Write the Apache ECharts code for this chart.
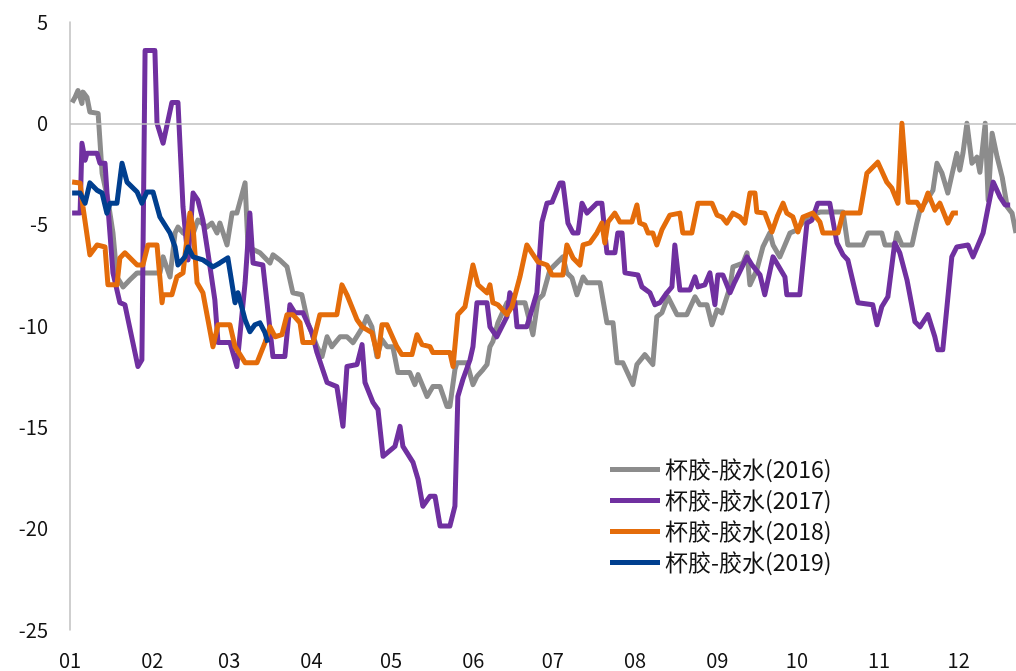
<!DOCTYPE html>
<html>
<head>
<meta charset="utf-8">
<script src="https://cdn.jsdelivr.net/npm/echarts@6.0.0/dist/echarts.min.js"></script>
<style>
html,body{margin:0;padding:0;background:#fff}
#main{width:1016px;height:671px}
</style>
</head>
<body>
<div id="main"></div>
<script>
// x = day of year (0 = 1 Jan), y = spread
const monthStarts = [0, 31, 60, 91, 121, 152, 182, 213, 244, 274, 305, 335]
const monthLabels = ['01','02','03','04','05','06','07','08','09','10','11','12']
const names = ['杯胶-胶水(2016)', '杯胶-胶水(2017)', '杯胶-胶水(2018)', '杯胶-胶水(2019)']
const colors = ['#8c8c8c', '#7030a0', '#e46c0a', '#003f8f']

const days2016 = [0.8,1.9,3.0,4.5,4.9,6.4,7.5,10.6,12.1,14.3,16.2,17.7,20.0,22.6,25.3,33.9,35.1,37.7,39.6,40.7,42.6,46.0,48.2,51.6,53.5,55.4,56.5,59.2,61.1,62.9,66.0,67.1,71.6,75.4,76.5,79.1,81.8,84.0,87.4,89.7,93.1,95.0,96.9,98.7,101.8,104.4,106.7,110.4,111.9,113.8,115.7,117.6,119.5,121.7,123.6,128.1,130.0,131.2,134.6,136.8,139.5,142.1,143.2,145.1,145.9,149.6,151.9,153.4,155.7,157.2,158.3,159.4,161.3,164.7,171.5,174.5,176.4,178.3,180.9,185.8,187.3,189.2,191.1,193.4,194.9,199.8,202.4,204.7,206.2,208.4,212.2,213.7,216.7,219.7,221.2,223.1,225.4,228.8,232.5,235.6,237.4,240.1,242.0,243.9,245.7,248.8,249.9,253.7,255.2,256.3,258.9,261.2,263.8,265.0,267.6,271.4,274.0,277.8,281.6,282.7,291.4,293.2,298.9,300.8,306.0,307.2,310.9,311.7,313.6,317.4,319.2,320.4,323.0,325.3,326.8,328.7,330.9,332.4,334.3,335.4,336.6,338.1,340.0,341.9,343.0,345.0,346.1,347.6,349.5,351.4,353.3,355.1,356.6]
const vals2016 = [1.03,1.29,1.62,0.98,1.54,1.29,0.56,0.49,-2.46,-3.79,-5.41,-7.58,-8.07,-7.72,-7.38,-7.38,-6.59,-7.58,-5.41,-5.12,-5.41,-5.61,-4.77,-5.12,-4.92,-5.41,-4.92,-6.00,-4.43,-4.43,-2.94,-6.10,-6.39,-6.89,-6.49,-6.74,-7.08,-8.36,-8.46,-9.84,-11.02,-11.51,-10.53,-11.02,-10.53,-10.53,-10.82,-10.04,-9.54,-10.04,-11.51,-10.67,-11.02,-11.02,-12.30,-12.30,-12.89,-12.40,-13.48,-12.99,-12.99,-13.97,-13.97,-12.15,-11.81,-11.81,-12.89,-12.49,-12.15,-11.90,-11.02,-10.77,-9.84,-8.85,-8.85,-10.43,-8.71,-8.46,-7.23,-6.59,-7.38,-7.62,-8.46,-7.58,-7.87,-7.87,-9.84,-9.84,-11.81,-11.81,-12.89,-11.90,-11.41,-11.90,-9.54,-9.35,-8.56,-9.44,-9.44,-8.56,-8.95,-8.95,-9.94,-9.20,-9.35,-8.07,-7.08,-6.89,-6.39,-7.97,-7.23,-6.10,-5.41,-6.00,-6.59,-5.41,-5.26,-4.62,-4.43,-4.38,-4.38,-6.00,-6.00,-5.41,-5.41,-6.00,-6.00,-5.41,-6.00,-6.00,-4.92,-4.28,-3.79,-3.30,-1.97,-2.46,-3.44,-2.56,-1.48,-2.31,-1.48,0,-1.97,-1.67,-2.41,0,-3.79,-0.49,-1.67,-2.66,-4.13,-4.43,-5.41]

const days2017 = [0.8,3.8,4.5,5.7,6.4,10.2,11.3,13.2,14.3,16.2,18.8,20.7,25.6,27.1,28.3,32.0,32.8,35.1,38.4,40.7,42.6,44.5,46.4,48.2,50.1,52.0,54.6,55.8,60.3,62.9,66.0,67.8,69.0,72.7,76.5,81.0,82.9,84.8,87.8,91.2,93.1,96.9,100.6,102.9,104.4,108.2,110.1,111.2,114.2,116.1,118.0,122.5,124.4,125.5,129.3,131.2,133.0,135.7,137.6,139.5,143.2,145.1,146.2,148.1,150.8,151.9,153.4,157.2,158.3,160.9,164.7,165.8,167.7,168.5,172.2,176.0,177.9,179.8,181.7,184.7,185.8,187.7,189.6,191.5,193.0,194.9,198.6,200.5,202.4,205.4,206.5,208.1,209.2,214.1,215.6,218.6,220.5,222.4,225.0,226.9,228.0,229.9,233.7,235.6,236.7,239.3,241.2,243.1,244.2,246.1,248.8,250.6,255.2,257.1,260.1,261.9,265.0,269.5,270.2,275.1,277.8,279.7,281.9,286.4,289.1,291.4,293.2,297.0,302.6,304.2,306.0,308.3,310.9,312.8,315.5,318.5,320.4,323.4,326.0,327.1,329.0,332.4,334.3,338.5,340.4,344.2,346.1,348.0,350.6,352.5,354.4]
const vals2017 = [-4.43,-4.43,-0.98,-1.82,-1.48,-1.48,-1.97,-1.97,-4.13,-7.38,-8.85,-8.95,-12.00,-11.66,3.59,3.59,0,-0.98,1.03,1.03,-4.13,-6.74,-3.44,-3.79,-4.77,-6.39,-8.71,-10.82,-10.82,-12.00,-7.87,-4.43,-6.89,-6.99,-11.51,-11.51,-8.95,-9.35,-9.35,-10.33,-11.31,-12.79,-12.99,-14.95,-12.00,-11.90,-10.92,-12.79,-13.77,-14.12,-16.43,-15.94,-14.95,-15.94,-16.73,-17.56,-18.89,-18.40,-18.40,-19.87,-19.87,-18.89,-13.48,-12.64,-11.66,-11.02,-8.85,-8.85,-10.04,-10.53,-9.54,-8.36,-8.85,-10.04,-10.04,-8.36,-4.87,-3.94,-3.89,-2.94,-2.94,-4.92,-5.41,-5.41,-3.94,-4.43,-3.94,-3.94,-6.39,-6.39,-5.41,-5.41,-7.38,-7.48,-8.07,-8.36,-8.95,-8.85,-8.36,-8.07,-6.00,-8.22,-8.22,-7.58,-8.07,-7.97,-7.38,-8.95,-7.48,-7.48,-8.36,-7.82,-6.59,-6.99,-7.48,-8.46,-6.59,-7.58,-8.46,-8.46,-4.92,-4.77,-3.94,-3.94,-5.90,-6.49,-6.74,-8.85,-8.95,-9.94,-9.05,-8.56,-5.90,-6.39,-7.72,-9.79,-10.04,-9.44,-10.53,-11.17,-11.17,-6.59,-6.10,-6.00,-6.59,-5.41,-4.13,-2.90,-3.64,-4.03,-4.03]

const days2018 = [0.8,3.8,4.9,7.5,10.2,13.2,14.3,17.7,18.8,20.7,25.3,27.5,29.4,32.8,34.7,35.1,38.4,40.3,42.6,45.2,46.4,47.9,50.1,52.0,53.9,55.8,60.3,62.2,66.0,70.5,73.5,75.4,77.3,79.9,81.8,84.0,86.7,87.8,91.6,94.2,100.6,102.5,104.4,108.2,110.1,113.8,116.1,117.6,119.5,123.2,125.1,128.9,130.8,132.7,135.7,136.8,143.2,144.4,146.2,148.9,151.9,153.8,157.2,158.3,159.4,161.3,164.7,166.6,169.6,172.2,174.1,176.4,179.8,181.7,185.8,187.3,189.6,192.2,193.4,196.0,198.6,200.5,201.6,202.8,205.4,207.3,211.8,213.7,214.8,216.7,217.9,219.7,221.2,223.1,226.1,229.9,231.0,234.4,236.7,242.0,243.9,245.7,247.6,249.9,252.5,254.4,256.3,258.2,258.9,261.9,264.6,266.8,268.8,270.2,272.5,274.4,276.3,280.0,282.7,283.8,289.5,291.4,297.8,300.4,304.5,307.9,309.8,312.1,313.6,315.9,319.2,321.1,323.4,326.0,327.9,330.9,332.8,334.7]
const vals2018 = [-2.90,-2.94,-4.13,-6.49,-6.00,-6.10,-7.97,-7.97,-6.64,-6.39,-6.99,-6.99,-6.00,-6.00,-8.85,-8.46,-8.46,-7.58,-7.38,-4.43,-5.12,-7.87,-8.36,-9.69,-11.02,-9.94,-9.94,-11.02,-11.81,-11.81,-10.82,-10.04,-10.53,-10.43,-9.44,-9.44,-9.84,-10.82,-10.82,-9.44,-9.44,-7.97,-8.46,-9.69,-10.04,-10.33,-11.51,-9.94,-9.94,-11.02,-11.41,-11.41,-10.43,-10.92,-11.02,-11.31,-11.31,-12.00,-9.44,-9.05,-6.99,-7.97,-8.36,-7.97,-8.85,-8.95,-9.44,-9.05,-7.58,-6.00,-6.39,-6.84,-6.99,-7.48,-7.48,-6.00,-6.64,-6.99,-6.00,-5.90,-5.41,-4.92,-5.90,-4.87,-4.43,-4.87,-4.87,-4.03,-4.92,-5.02,-5.41,-5.41,-6.00,-5.26,-4.53,-4.43,-5.41,-5.41,-3.94,-3.94,-4.53,-4.62,-4.92,-4.43,-4.62,-4.92,-3.44,-3.44,-4.38,-4.43,-5.36,-4.53,-3.94,-4.43,-4.62,-5.36,-4.62,-4.43,-4.87,-5.41,-5.41,-4.43,-4.43,-2.46,-1.92,-2.90,-3.20,-3.94,0,-3.89,-3.89,-4.28,-3.44,-4.28,-3.94,-4.92,-4.43,-4.43]

const days2019 = [0.8,3.8,5.7,7.5,10.2,12.1,13.9,15.1,17.7,19.6,21.5,25.3,27.1,29.0,31.3,33.9,37.7,39.6,40.7,43.3,44.5,46.4,50.1,53.9,56.5,59.5,62.2,63.3,66.0,67.8,69.7,71.6,73.5,74.6]
const vals2019 = [-3.44,-3.44,-3.94,-2.94,-3.30,-3.44,-4.43,-3.94,-3.94,-1.97,-2.90,-3.39,-3.94,-3.39,-3.39,-4.62,-5.41,-6.10,-6.99,-6.59,-6.10,-6.59,-6.74,-7.08,-6.89,-6.64,-8.85,-8.36,-9.69,-10.28,-9.94,-9.84,-10.33,-10.82]

const pairs = (ds, vs) => ds.map((d, i) => [d, vs[i]])
const allData = [
  pairs(days2016, vals2016),
  pairs(days2017, vals2017),
  pairs(days2018, vals2018),
  pairs(days2019, vals2019)
]

const font = "'Noto Sans CJK SC', sans-serif"
const myChart = echarts.init(document.getElementById('main'))

const series = allData.map((data, i) => ({
  name: names[i],
  type: 'line',
  data: data,
  symbol: 'none',
  color: colors[i],
  lineStyle: { width: 5, color: colors[i], join: 'round' },
  z: 3 + i
}))
// zero line
series[0].markLine = {
  silent: true,
  symbol: 'none',
  animation: false,
  label: { show: false },
  lineStyle: { color: '#bfbfbf', width: 1.5, type: 'solid' },
  data: [{ yAxis: 0 }]
}

const option = {
  animation: false,
  textStyle: { fontFamily: font },
  grid: { left: 70, right: 0, top: 22, bottom: 41 },
  legend: {
    orient: 'vertical',
    left: 605,
    top: 453,
    itemWidth: 50,
    itemHeight: 5,
    itemGap: 8,
    icon: 'rect',
    textStyle: { fontSize: 23, color: '#111', fontFamily: font }
  },
  xAxis: {
    type: 'value',
    min: 0,
    max: 356.6,
    splitLine: { show: false },
    axisLine: { show: false },
    axisTick: { show: false },
    axisLabel: {
      customValues: monthStarts,
      formatter: v => monthLabels[monthStarts.indexOf(v)],
      fontSize: 20,
      color: '#111',
      margin: 20
    }
  },
  yAxis: {
    type: 'value',
    min: -25,
    max: 5,
    interval: 5,
    splitLine: { show: false },
    axisLine: { show: true, lineStyle: { color: '#bfbfbf', width: 1.5 } },
    axisTick: { show: false },
    axisLabel: { fontSize: 20, color: '#111', margin: 22 }
  },
  series: series
}
myChart.setOption(option)
</script>
</body>
</html>
